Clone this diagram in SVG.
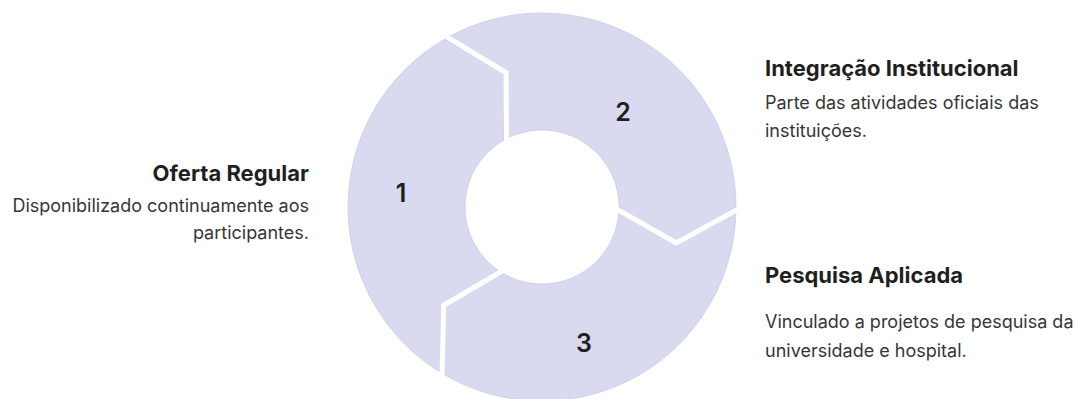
<svg xmlns="http://www.w3.org/2000/svg" width="1078" height="399" viewBox="0 0 1078 399">
<style>
.seg{fill:#d9daf0;stroke:#c9cbe4;stroke-width:0.8}
.gap{fill:none;stroke:#ffffff;stroke-width:5;stroke-linejoin:miter}
.num{font-family:Inter,"Liberation Sans",sans-serif;font-size:25px;font-weight:600;fill:#1f1f1f;text-anchor:middle}
.h{font-family:Inter,"Liberation Sans",sans-serif;font-size:22px;font-weight:700;fill:#1f1f1f}
.b{font-family:Inter,"Liberation Sans",sans-serif;font-size:18px;font-weight:400;fill:#363636}
.r{text-anchor:end}
</style>
<rect width="1078" height="399" fill="#ffffff"/>
<g id="ring">
<g id="seg1"><path class="seg" d="M445,375.01 A194,194 0 0 1 445,38.99 L506.03,72.74 L503.5,140.32 A77,77 0 0 0 503.5,273.68 L443.71,305.29 Z"/><text class="num" x="401" y="202">1</text></g>
<g id="seg2"><path class="seg" d="M445,38.99 A194,194 0 0 1 736,207 L676.26,242.97 L619,207 A77,77 0 0 0 503.5,140.32 L506.03,72.74 Z"/><text class="num" x="623" y="121">2</text></g>
<g id="seg3"><path class="seg" d="M736,207 A194,194 0 0 1 445,375.01 L443.71,305.29 L503.5,273.68 A77,77 0 0 0 619,207 L676.26,242.97 Z"/><text class="num" x="584" y="352">3</text></g>
</g>
<g id="connectors">
<polyline class="gap" points="442,33.8 506.03,72.74 506.5,145.5"/>
<polyline class="gap" points="742,207 676.26,242.97 613,207"/>
<polyline class="gap" points="442,380.2 443.71,305.29 506.5,268.5"/>
</g>
<g id="label1">
<text class="h r" x="309" y="181">Oferta Regular</text>
<text class="b r" x="309" y="212">Disponibilizado continuamente aos</text>
<text class="b r" x="309" y="239">participantes.</text>
</g>
<g id="label2">
<text class="h" x="765" y="76">Integração Institucional</text>
<text class="b" x="765" y="109">Parte das atividades oficiais das</text>
<text class="b" x="765" y="137">instituições.</text>
</g>
<g id="label3">
<text class="h" x="765" y="283">Pesquisa Aplicada</text>
<text class="b" x="765" y="328">Vinculado a projetos de pesquisa da</text>
<text class="b" x="765" y="357">universidade e hospital.</text>
</g>
</svg>
